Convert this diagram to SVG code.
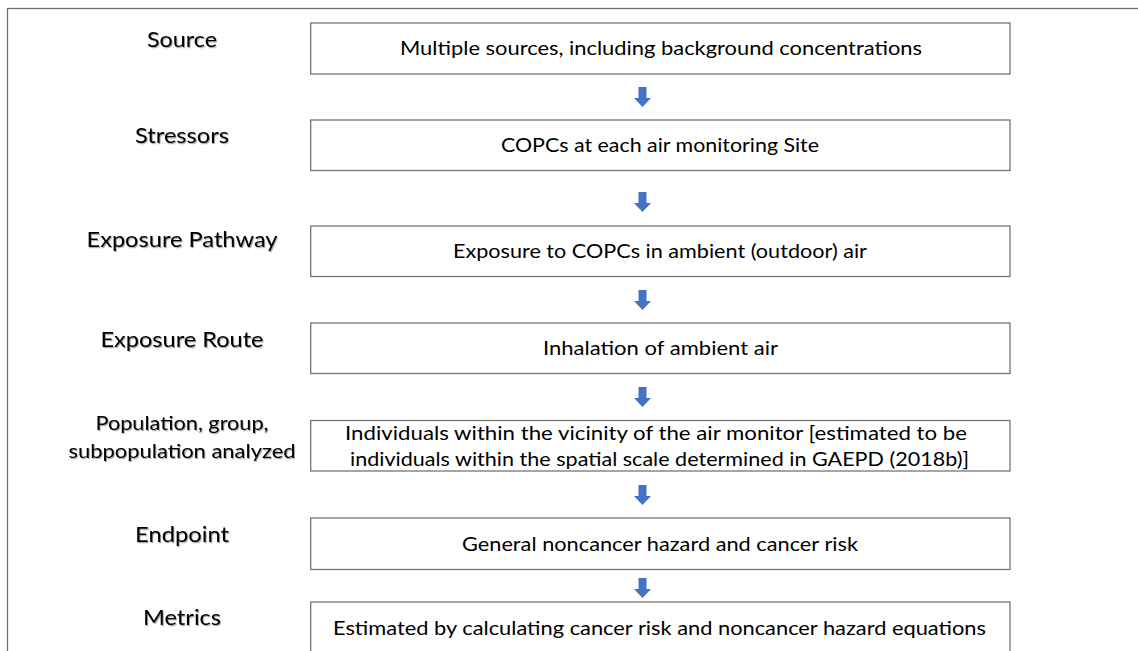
<svg xmlns="http://www.w3.org/2000/svg" width="1138" height="651" viewBox="0 0 1138 651">
<style>
.box{fill:#ffffff;stroke:#767676;stroke-width:1.3}
.bt{font-family:Lato,"Open Sans","Liberation Sans",sans-serif;font-size:19px;fill:#000;text-anchor:middle}
.lb{font-family:Lato,"Open Sans","Liberation Sans",sans-serif;font-size:21.5px;fill:#000;text-anchor:middle;filter:url(#sh)}
.lb2{font-family:Lato,"Open Sans","Liberation Sans",sans-serif;font-size:19px;fill:#000;text-anchor:middle;filter:url(#sh)}
.ar{fill:#4472C4}
</style>
<defs>
<filter id="sh" x="-10%" y="-30%" width="120%" height="160%">
<feDropShadow dx="1" dy="1.2" stdDeviation="0.7" flood-color="#000" flood-opacity="0.35"/>
</filter>
<path id="arw" d="M-4,0 H4 V11 H8.5 L0,20 L-8.5,11 H-4 Z"/>
</defs>
<rect x="0" y="0" width="1138" height="651" fill="#ffffff"/>
<rect x="7.5" y="8.5" width="1145" height="660" fill="none" stroke="#6e6e6e" stroke-width="1.3"/>

<g id="labels">
<text class="lb" x="182" y="47" textLength="70" lengthAdjust="spacingAndGlyphs">Source</text>
<text class="lb" x="182" y="143" textLength="94" lengthAdjust="spacingAndGlyphs">Stressors</text>
<text class="lb" x="182" y="247" textLength="191" lengthAdjust="spacingAndGlyphs">Exposure Pathway</text>
<text class="lb" x="182" y="347" textLength="163" lengthAdjust="spacingAndGlyphs">Exposure Route</text>
<text class="lb2" x="182" y="430" textLength="173" lengthAdjust="spacingAndGlyphs">Population, group,</text>
<text class="lb2" x="182" y="458" textLength="227" lengthAdjust="spacingAndGlyphs">subpopulation analyzed</text>
<text class="lb" x="182" y="542" textLength="94" lengthAdjust="spacingAndGlyphs">Endpoint</text>
<text class="lb" x="182" y="625" textLength="78" lengthAdjust="spacingAndGlyphs">Metrics</text>
</g>

<g id="node-source">
<rect class="box" x="310.7" y="23" width="699.3" height="51"/>
<text class="bt" x="661" y="55" textLength="522" lengthAdjust="spacingAndGlyphs">Multiple sources, including background concentrations</text>
</g>
<g id="node-stressors">
<rect class="box" x="310.7" y="120" width="699.3" height="50.5"/>
<text class="bt" x="660" y="152" textLength="318" lengthAdjust="spacingAndGlyphs">COPCs at each air monitoring Site</text>
</g>
<g id="node-pathway">
<rect class="box" x="310.7" y="226" width="699.3" height="50.5"/>
<text class="bt" x="660" y="258" textLength="414" lengthAdjust="spacingAndGlyphs">Exposure to COPCs in ambient (outdoor) air</text>
</g>
<g id="node-route">
<rect class="box" x="310.7" y="323" width="699.3" height="50.5"/>
<text class="bt" x="660.5" y="355" textLength="235" lengthAdjust="spacingAndGlyphs">Inhalation of ambient air</text>
</g>
<g id="node-population">
<rect class="box" x="310.7" y="420.5" width="699.3" height="50.5"/>
<text class="bt" x="656" y="440" textLength="622" lengthAdjust="spacingAndGlyphs">Individuals within the vicinity of the air monitor [estimated to be</text>
<text class="bt" x="659.5" y="466" textLength="619" lengthAdjust="spacingAndGlyphs">individuals within the spatial scale determined in GAEPD (2018b)]</text>
</g>
<g id="node-endpoint">
<rect class="box" x="310.7" y="518" width="699.3" height="51.5"/>
<text class="bt" x="660" y="550.5" textLength="396" lengthAdjust="spacingAndGlyphs">General noncancer hazard and cancer risk</text>
</g>
<g id="node-metrics">
<rect class="box" x="310.7" y="602" width="699.3" height="60"/>
<text class="bt" x="659.5" y="635" textLength="653" lengthAdjust="spacingAndGlyphs">Estimated by calculating cancer risk and noncancer hazard equations</text>
</g>

<g id="connectors">
<use href="#arw" class="ar" x="642.5" y="87"/>
<use href="#arw" class="ar" x="642.5" y="192"/>
<use href="#arw" class="ar" x="642.5" y="290"/>
<use href="#arw" class="ar" x="642.5" y="387"/>
<use href="#arw" class="ar" x="642.5" y="485"/>
<use href="#arw" class="ar" x="642.5" y="578"/>
</g>
</svg>
